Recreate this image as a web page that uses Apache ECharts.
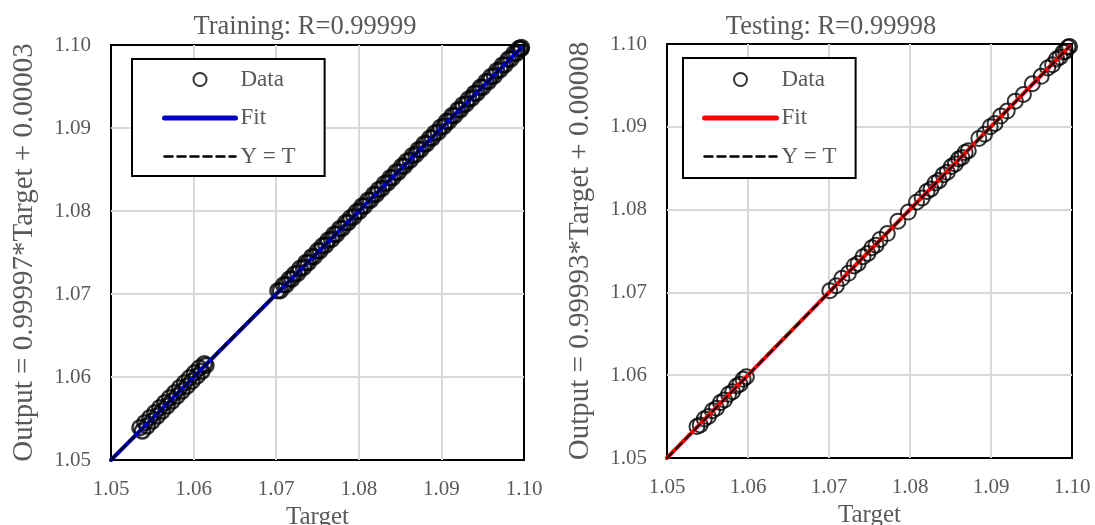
<!DOCTYPE html>
<html>
<head>
<meta charset="utf-8">
<script src="https://cdn.jsdelivr.net/npm/echarts@6/dist/echarts.min.js"></script>
</head>
<body style="margin:0;background:#fff">
<div id="main" style="width:1095px;height:525px;"></div>
<script type="text/javascript">
    // values
    var trainTarget = [1.0535,1.0538,1.0541,1.0544,1.0547,1.0550,1.0553,1.0556,1.0559,1.0562,1.0565,1.0568,1.0571,1.0574,
        1.0577,1.0580,1.0583,1.0586,1.0589,1.0592,1.0595,1.0598,1.0601,1.0604,1.0607,1.0610,1.0613,1.0615,
        1.0702,1.0705,1.0709,1.0712,1.0716,1.0719,1.0722,1.0726,1.0729,1.0733,
        1.0736,1.0739,1.0743,1.0746,1.0750,1.0753,1.0756,1.0760,1.0763,1.0767,
        1.0770,1.0773,1.0777,1.0780,1.0784,1.0787,1.0790,1.0794,1.0797,1.0801,
        1.0804,1.0807,1.0811,1.0814,1.0818,1.0821,1.0824,1.0828,1.0831,1.0835,
        1.0838,1.0841,1.0845,1.0848,1.0852,1.0855,1.0858,1.0862,1.0865,1.0869,
        1.0872,1.0875,1.0879,1.0882,1.0886,1.0889,1.0892,1.0896,1.0899,1.0903,
        1.0906,1.0909,1.0913,1.0916,1.0920,1.0923,1.0926,1.0930,1.0933,1.0937,
        1.0940,1.0943,1.0947,1.0950,1.0954,1.0957,1.0960,1.0964,1.0967,1.0971,
        1.0974,1.0977,1.0981,1.0984,1.0988,1.0991,1.0994,1.0996,1.0997];
    var trainOutput = [1.0539,1.0535,1.0545,1.0541,1.0551,1.0547,1.0557,1.0553,1.0563,1.0559,1.0569,1.0565,1.0575,1.0571,
        1.0581,1.0577,1.0587,1.0583,1.0593,1.0589,1.0599,1.0595,1.0605,1.0601,1.0611,1.0607,1.0616,1.0614,
        1.0704,1.0704,1.0711,1.0711,1.0718,1.0718,1.0724,1.0725,1.0731,1.0732,
        1.0738,1.0738,1.0745,1.0745,1.0752,1.0752,1.0758,1.0759,1.0765,1.0766,
        1.0772,1.0772,1.0779,1.0779,1.0786,1.0786,1.0792,1.0793,1.0799,1.0800,
        1.0806,1.0806,1.0813,1.0813,1.0820,1.0820,1.0826,1.0827,1.0833,1.0834,
        1.0840,1.0840,1.0847,1.0847,1.0854,1.0854,1.0860,1.0861,1.0867,1.0868,
        1.0874,1.0874,1.0881,1.0881,1.0888,1.0888,1.0894,1.0895,1.0901,1.0902,
        1.0908,1.0908,1.0915,1.0915,1.0922,1.0922,1.0928,1.0929,1.0935,1.0936,
        1.0942,1.0942,1.0949,1.0949,1.0956,1.0956,1.0962,1.0963,1.0969,1.0970,
        1.0976,1.0976,1.0983,1.0983,1.0990,1.0990,1.0996,1.0995,1.0997];
    var testTarget = [1.0537,1.0541,1.0546,1.0551,1.0556,1.0561,1.0566,1.0571,1.0576,1.0581,1.0586,1.0590,1.0594,1.0598,
        1.0701,1.0709,1.0716,1.0724,1.0731,1.0736,1.0742,1.0748,1.0753,1.0758,1.0763,1.0772,1.0785,1.0798,1.0808,1.0815,1.0821,1.0826,1.0831,1.0836,
        1.0841,1.0846,1.0851,1.0856,1.0860,1.0864,1.0868,1.0872,1.0885,1.0892,1.0899,1.0905,1.0912,1.0920,1.0930,1.0940,1.0951,1.0962,1.0970,1.0976,
        1.0981,1.0985,1.0989,1.0992,1.0995,1.0997];
    var testOutput = [1.0538,1.0540,1.0547,1.0550,1.0557,1.0560,1.0567,1.0570,1.0577,1.0580,1.0587,1.0589,1.0595,1.0598,
        1.0702,1.0708,1.0717,1.0723,1.0732,1.0735,1.0743,1.0747,1.0754,1.0757,1.0764,1.0771,1.0786,1.0797,1.0809,1.0814,1.0822,1.0825,1.0832,1.0835,
        1.0842,1.0845,1.0852,1.0855,1.0861,1.0863,1.0869,1.0871,1.0886,1.0891,1.0900,1.0904,1.0913,1.0919,1.0931,1.0939,1.0952,1.0961,1.0971,1.0975,
        1.0982,1.0984,1.0990,1.0991,1.0996,1.0997];
    // fit lines (Output = a*Target + b) and Y = T, end points
    var lineX = [1.05, 1.0997];
    var trainFitY = [1.0499985, 1.0996670];
    var testFitY = [1.0500065, 1.0997030];
    var idealY = [1.05, 1.0997];
    var tickLabels = ['1.05', '1.06', '1.07', '1.08', '1.09', '1.10'];
    var titles = ['Training: R=0.99999', 'Testing: R=0.99998'];
    var yNames = ['Output = 0.99997*Target + 0.00003', 'Output = 0.99993*Target + 0.00008'];

    var FONT = 'Liberation Serif';
    var GRAY = '#595959';
    var grids = [
        {left: 111, top: 45, width: 413, height: 415},
        {left: 667, top: 44, width: 405, height: 414}
    ];

    function zip(a, b) {
        return a.map(function (v, i) { return [v, b[i]]; });
    }

    function axis(gi, isX) {
        return {
            type: 'value',
            gridIndex: gi,
            min: 1.05,
            max: 1.10,
            interval: 0.01,
            name: isX ? 'Target' : yNames[gi],
            nameLocation: 'middle',
            nameGap: isX ? 31 : 72,
            nameTextStyle: {fontFamily: FONT, fontSize: isX ? 25 : 29, color: GRAY},
            axisLine: {show: false},
            axisTick: {show: false},
            axisLabel: {
                fontFamily: FONT, fontSize: 21, color: GRAY,
                margin: isX ? 19 : 20,
                formatter: function (v) { return tickLabels[Math.round((v - 1.05) * 100)]; }
            },
            splitLine: {show: true, showMinLine: false, showMaxLine: false, lineStyle: {color: '#d9d9d9', width: 2}}
        };
    }

    var names = [['Data', 'Fit', 'Y = T'], ['Data2', 'Fit2', 'YT2']];
    var labelOf = {'Data': 'Data', 'Fit': 'Fit', 'Y = T': 'Y = T', 'Data2': 'Data', 'Fit2': 'Fit', 'YT2': 'Y = T'};

    function scatter(gi, data, bw) {
        return {
            name: names[gi][0], type: 'scatter', xAxisIndex: gi, yAxisIndex: gi,
            symbol: 'circle', symbolSize: 15, clip: false, z: 2,
            itemStyle: {color: 'transparent', borderColor: '#000', borderWidth: bw},
            data: data
        };
    }
    function line(gi, k, ys, color, width, type, z) {
        return {
            name: names[gi][k], type: 'line', xAxisIndex: gi, yAxisIndex: gi,
            symbol: 'none', z: z, silent: true,
            lineStyle: {color: color, width: width, type: type, cap: 'round'},
            itemStyle: {color: color},
            data: zip(lineX, ys)
        };
    }
    function legend(gi, left, top, itemWidth, padding) {
        var n = names[gi];
        return {
            data: [
                {name: n[0], itemStyle: {borderWidth: 2}},
                {name: n[1], itemStyle: {opacity: 0}, lineStyle: {width: 5}},
                {name: n[2], itemStyle: {opacity: 0}, lineStyle: {width: 2.5}}
            ],
            left: left, top: top, orient: 'vertical',
            itemWidth: itemWidth, itemHeight: 13, itemGap: 15.5, padding: padding,
            borderColor: '#000', borderWidth: 2, backgroundColor: '#fff',
            selectedMode: false,
            formatter: function (n) { return labelOf[n]; },
            textStyle: {fontFamily: FONT, fontSize: 23, color: GRAY}
        };
    }

    var myChart = echarts.init(document.getElementById('main'));
    option = {
        animation: false,
        grid: grids.map(function (g) {
            return {left: g.left, top: g.top, width: g.width, height: g.height, outerBoundsMode: 'none',
                show: true, borderColor: '#000', borderWidth: 2, backgroundColor: 'transparent'};
        }),
        xAxis: [axis(0, true), axis(1, true)],
        yAxis: [axis(0, false), axis(1, false)],
        legend: [
            legend(0, 132, 59, 71, [9, 29, 8, 30]),
            legend(1, 683, 58, 72, [10, 19, 10, 19])
        ],
        graphic: [
            {type: 'text', x: 305, y: 27, style: {text: titles[0], fontFamily: FONT, fontSize: 26.5, fill: GRAY, align: 'center', verticalAlign: 'middle'}},
            {type: 'text', x: 831, y: 27, style: {text: titles[1], fontFamily: FONT, fontSize: 26.5, fill: GRAY, align: 'center', verticalAlign: 'middle'}}
        ],
        series: [
            scatter(0, zip(trainTarget, trainOutput), 2.5),
            line(0, 1, trainFitY, '#0000cc', 4, 'solid', 3),
            line(0, 2, idealY, '#000', 2, [8, 5], 4),
            scatter(1, zip(testTarget, testOutput), 2),
            line(1, 1, testFitY, '#ff0000', 4, 'solid', 3),
            line(1, 2, idealY, '#000', 2, [8, 5], 4)
        ]
    };
    myChart.setOption(option);
</script>
</body>
</html>
